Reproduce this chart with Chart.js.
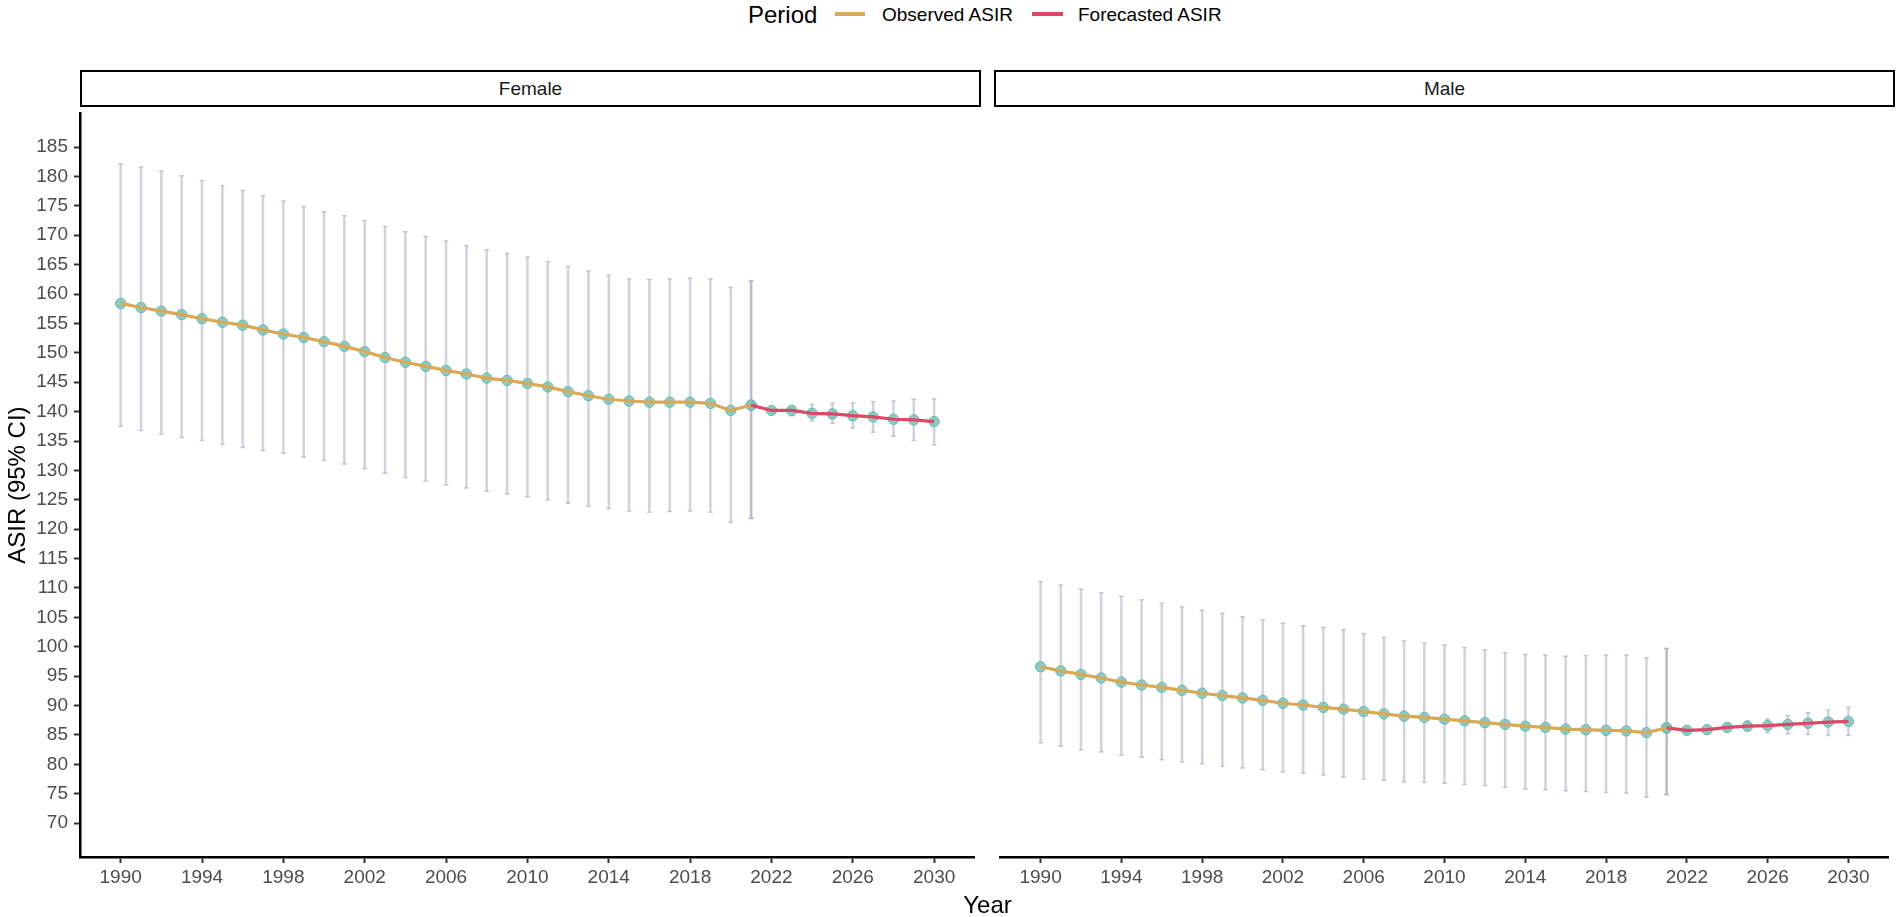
<!DOCTYPE html>
<html><head><meta charset="utf-8">
<script src="https://cdn.jsdelivr.net/npm/chart.js@4.4.1/dist/chart.umd.min.js"></script>
<style>
html,body{margin:0;padding:0;background:#fff;width:1902px;height:917px;overflow:hidden;font-family:"Liberation Sans",Arial,sans-serif;}
.abs{position:absolute;white-space:nowrap;}
.strip{position:absolute;top:70px;height:37px;width:901px;border:2.5px solid #000;box-sizing:border-box;display:flex;align-items:center;justify-content:center;font-size:19px;color:#1a1a1a;}
canvas{position:absolute;top:107px;}
</style></head><body>
<div class="abs" style="left:748px;top:1px;font-size:24px;line-height:28px;color:#000">Period</div>
<div class="abs" style="left:835px;top:12px;width:30px;height:4px;background:#D8A956"></div>
<div class="abs" style="left:882px;top:4px;font-size:19px;line-height:22px;color:#000">Observed ASIR</div>
<div class="abs" style="left:1032px;top:12px;width:31px;height:4px;background:#DE4766"></div>
<div class="abs" style="left:1078px;top:4px;font-size:19px;line-height:22px;color:#000">Forecasted ASIR</div>
<div class="strip" style="left:80px">Female</div>
<div class="strip" style="left:994px">Male</div>
<canvas id="female" width="981" height="810" style="left:0px"></canvas>
<canvas id="male" width="901" height="810" style="left:994px"></canvas>
<div class="abs" style="left:0;width:1975px;text-align:center;top:891px;font-size:24px;line-height:28px;color:#000">Year</div>
<script>
// ---- categories / ticks ----
const obsYears = [1990,1991,1992,1993,1994,1995,1996,1997,1998,1999,2000,2001,2002,2003,2004,2005,2006,2007,2008,2009,2010,2011,2012,2013,2014,2015,2016,2017,2018,2019,2020,2021];
const fcYears = [2021,2022,2023,2024,2025,2026,2027,2028,2029,2030];
const xTicks = [1990,1994,1998,2002,2006,2010,2014,2018,2022,2026,2030];
const yTicks = [70,75,80,85,90,95,100,105,110,115,120,125,130,135,140,145,150,155,160,165,170,175,180,185];

// ---- Female ----
const femaleObs = [158.4,157.7,157.1,156.5,155.8,155.2,154.7,153.9,153.2,152.6,151.9,151.1,150.2,149.2,148.4,147.7,147.0,146.4,145.7,145.3,144.8,144.2,143.4,142.7,142.1,141.8,141.6,141.6,141.6,141.4,140.2,141.1];
const femaleObsLow = [137.5,136.8,136.2,135.6,135.1,134.4,133.9,133.4,132.9,132.3,131.7,131.1,130.3,129.5,128.8,128.2,127.5,127.0,126.5,126.0,125.5,125.0,124.4,123.9,123.5,123.1,122.9,123.0,123.1,122.9,121.2,121.8];
const femaleObsHigh = [182.1,181.6,180.9,180.1,179.3,178.4,177.6,176.7,175.8,174.9,174.0,173.3,172.5,171.5,170.6,169.8,169.0,168.2,167.5,166.9,166.3,165.5,164.7,163.9,163.2,162.6,162.5,162.6,162.7,162.6,161.1,162.2];
const femaleFc = [141.1,140.2,140.2,139.7,139.6,139.3,139.1,138.7,138.6,138.3];
const femaleFcLow = [121.8,139.7,139.3,138.4,138.0,137.2,136.5,135.8,135.1,134.3];
const femaleFcHigh = [162.2,140.7,141.0,141.2,141.4,141.5,141.7,141.8,142.1,142.2];

// ---- Male ----
const maleObs = [96.6,95.9,95.3,94.7,94.0,93.5,93.1,92.6,92.1,91.7,91.3,90.9,90.4,90.1,89.7,89.4,89.0,88.6,88.2,88.0,87.7,87.4,87.1,86.8,86.5,86.3,86.0,85.9,85.8,85.7,85.4,86.2];
const maleObsLow = [83.7,83.1,82.5,82.1,81.6,81.2,80.8,80.4,80.1,79.7,79.4,79.1,78.7,78.5,78.2,77.8,77.5,77.3,77.0,76.9,76.8,76.6,76.4,76.1,75.8,75.7,75.5,75.4,75.2,75.1,74.4,74.9];
const maleObsHigh = [111.1,110.5,109.8,109.2,108.6,108.0,107.4,106.8,106.2,105.7,105.1,104.6,104.0,103.6,103.3,102.9,102.2,101.6,101.0,100.6,100.3,99.9,99.5,99.0,98.7,98.6,98.4,98.5,98.6,98.6,98.1,99.7];
const maleFc = [86.2,85.8,85.9,86.3,86.5,86.6,86.8,87.0,87.2,87.3];
const maleFcLow = [74.9,85.3,85.3,85.6,85.7,85.4,85.2,85.1,84.9,84.9];
const maleFcHigh = [99.7,86.3,86.6,87.0,87.4,87.7,88.3,88.8,89.3,89.7];

const FONT = '"Liberation Sans", Arial, sans-serif';
const GOLD = '#D8A956', RED = '#DE4766';
const BAR = 'rgba(165,170,184,0.52)';

function pts(xs, ys){ return xs.map((x,i)=>({x:x, y:ys[i]})); }
function rng(xs, lo, hi){ return xs.map((x,i)=>({x:x, y:[lo[i], hi[i]]})); }

function makePanel(id, obs, obsLo, obsHi, fc, fcLo, fcHi, showY){
  const datasets = [
    {type:'bar', data:rng(obsYears, obsLo, obsHi), backgroundColor:BAR, borderWidth:0, barThickness:1.8, grouped:false, order:6},
    {type:'bar', data:rng(fcYears, fcLo, fcHi), backgroundColor:BAR, borderWidth:0, barThickness:1.8, grouped:false, order:6},
    {type:'scatter', data:pts(obsYears, obsLo).concat(pts(obsYears, obsHi)), pointStyle:'line', pointRadius:2.5, borderColor:BAR, borderWidth:1.5, showLine:false, order:5},
    {type:'scatter', data:pts(fcYears, fcLo).concat(pts(fcYears, fcHi)), pointStyle:'line', pointRadius:2.5, borderColor:BAR, borderWidth:1.5, showLine:false, order:5},
    {type:'scatter', data:pts(obsYears, obs).concat(pts(fcYears, fc)), pointRadius:5.2, backgroundColor:'rgba(126,198,189,0.88)', borderColor:'rgba(100,178,168,0.9)', borderWidth:1, showLine:false, order:3},
    {type:'line', data:pts(obsYears, obs), borderColor:GOLD, borderWidth:3.2, pointRadius:0, fill:false, tension:0, order:2},
    {type:'line', data:pts(fcYears, fc), borderColor:RED, borderWidth:3.2, pointRadius:0, fill:false, tension:0, order:1}
  ];
  const y = {
    type:'linear', min:64.25, max:190.75, display:showY,
    afterBuildTicks: s => { s.ticks = yTicks.map(v=>({value:v})); },
    grid:{display:true, drawOnChartArea:false, drawTicks:true, tickLength:6, tickWidth:2, tickColor:'#333'},
    border:{display:true, color:'#000', width:2.5},
    ticks:{color:'#4d4d4d', font:{size:19, family:FONT}, padding:6, autoSkip:false, callback: v => String(v)},
    title:{display:true, text:'ASIR (95% CI)', color:'#000', font:{size:24, family:FONT}, padding:{top:4, bottom:0}}
  };
  if (showY) y.afterFit = s => { s.width = 80; s.paddingTop = 0; s.paddingBottom = 0; };
  return new Chart(document.getElementById(id), {
    type:'scatter',
    data:{datasets},
    options:{
      responsive:false, animation:false, events:[], devicePixelRatio:1,
      layout:{padding:0},
      plugins:{legend:{display:false}, tooltip:{enabled:false}, title:{display:false}},
      scales:{
        x:{
          type:'linear', min:1988, max:2032, offset:false,
          afterBuildTicks: s => { s.ticks = xTicks.map(v=>({value:v})); },
          afterFit: s => { s.height = 60; s.paddingLeft = 0; s.paddingRight = 0; },
          grid:{display:true, drawOnChartArea:false, drawTicks:true, tickLength:6, tickWidth:2, tickColor:'#333', offset:false},
          border:{display:true, color:'#000', width:2.5},
          ticks:{color:'#4d4d4d', font:{size:19, family:FONT}, padding:3, maxRotation:0, autoSkip:false, callback: v => String(v)},
          title:{display:false}
        },
        y: y
      }
    }
  });
}

makePanel('female', femaleObs, femaleObsLow, femaleObsHigh, femaleFc, femaleFcLow, femaleFcHigh, true);
makePanel('male', maleObs, maleObsLow, maleObsHigh, maleFc, maleFcLow, maleFcHigh, false);
</script>
</body></html>
